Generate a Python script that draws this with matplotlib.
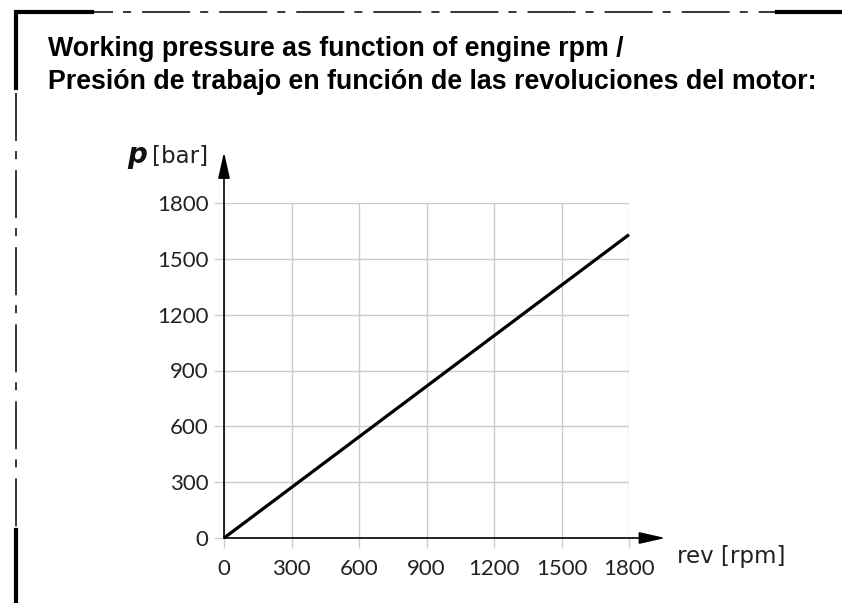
import matplotlib
matplotlib.use('Agg')
import matplotlib.pyplot as plt
from matplotlib.lines import Line2D
from matplotlib.patches import FancyArrowPatch

# data
rpm = [0, 1800]
pressure = [0, 1630]
xticks = [0, 300, 600, 900, 1200, 1500, 1800]
yticks = [0, 300, 600, 900, 1200, 1500, 1800]
title_lines = ['Working pressure as function of engine rpm /',
               'Presión de trabajo en función de las revoluciones del motor:']

W, H = 842, 603
plt.rcParams['lines.scale_dashes'] = False
fig = plt.figure(figsize=(W / 100, H / 100), dpi=100)

def fx(px):
    return px / W

def fy(py):
    return 1 - py / H

# axes placed so 0..1800 spans the same pixels as the reference
ax = fig.add_axes([fx(224), fy(538), fx(629) - fx(224), fy(203) - fy(538)])
ax.set_xlim(0, 1800)
ax.set_ylim(0, 1800)
ax.set_xticks(xticks)
ax.set_yticks(yticks)
ax.grid(True, color='#cccccc', lw=1.0)
ax.set_axisbelow(True)
for s in ax.spines.values():
    s.set_visible(False)
ax.tick_params(axis='both', color='#cccccc', width=1.0, length=7, labelsize=16)
ax.tick_params(axis='x', pad=8)
ax.tick_params(axis='y', pad=4)
for lab in ax.get_xticklabels() + ax.get_yticklabels():
    lab.set_family('Lato')
    lab.set_color('#222222')

ax.plot(rpm, pressure, color='black', lw=2.3, solid_capstyle='butt', clip_on=False)

# axis arrows
for tip in [(1.09, 0), (0, 1.152)]:
    arr = FancyArrowPatch((0, 0), tip, transform=ax.transAxes,
                          arrowstyle='-|>,head_length=1.6,head_width=0.36',
                          mutation_scale=10, lw=1.2, color='black',
                          shrinkA=0, shrinkB=0, clip_on=False)
    ax.add_patch(arr)

fig.text(fx(148), fy(163), r'$\boldsymbol{p}$', fontsize=20, ha='right', va='baseline', color='#111111')
fig.text(fx(208), fy(163), '[bar]', fontsize=16.5, ha='right', va='baseline', color='#222222')
fig.text(fx(677), fy(563), 'rev [rpm]', fontsize=16.5, ha='left', va='baseline', color='#222222')

for i, line in enumerate(title_lines):
    fig.text(fx(48), fy(56 + i * 33), line, fontsize=19.3, fontweight='bold',
             family='Liberation Sans', ha='left', va='baseline')

# drawing-sheet frame: thick corners with dash-dot edges
dash = (0, (34.6, 7.2, 5.8, 7.9))
fig.add_artist(Line2D([fx(65), fx(777)], [fy(12), fy(12)], lw=1.1, color='black', linestyle=dash))
fig.add_artist(Line2D([fx(16), fx(16)], [fy(93), fy(530)], lw=1.1, color='black', linestyle=dash))
fig.add_artist(Line2D([fx(16), fx(16), fx(92)], [fy(88), fy(12), fy(12)], lw=3.0, color='black', solid_joinstyle='miter'))
fig.add_artist(Line2D([fx(777), fx(842)], [fy(12), fy(12)], lw=3.0, color='black'))
fig.add_artist(Line2D([fx(16), fx(16)], [fy(530), fy(603)], lw=3.0, color='black'))

fig.savefig('out.png', dpi=100)
